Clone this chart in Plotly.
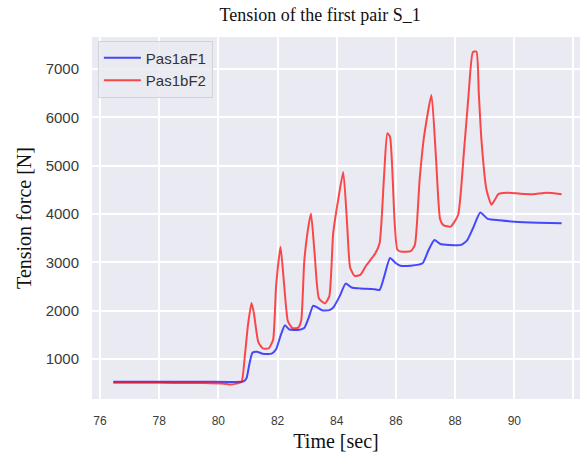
import plotly.graph_objects as go

# Pas1aF1 (blue)
t_a = [76.45, 77.5, 78.5, 79.5, 80.5, 80.85, 80.95, 81.05, 81.15, 81.3, 81.5, 81.8, 81.95,
       82.1, 82.25, 82.4, 82.7, 82.9, 83.05, 83.2, 83.3, 83.5, 83.75, 83.9, 84.1, 84.3,
       84.5, 84.8, 85.2, 85.45, 85.6, 85.8, 86.0, 86.15, 86.5, 86.9, 87.1, 87.3, 87.5,
       87.8, 88.2, 88.4, 88.6, 88.85, 89.1, 89.5, 90.0, 90.8, 91.6]
f_a = [530, 530, 530, 530, 525, 535, 600, 900, 1130, 1150, 1110, 1110, 1200,
       1480, 1700, 1610, 1600, 1640, 1850, 2100, 2080, 2010, 2010, 2080, 2300, 2560,
       2480, 2460, 2450, 2430, 2700, 3090, 2980, 2930, 2930, 2980, 3250, 3460, 3380,
       3360, 3360, 3450, 3700, 4030, 3900, 3870, 3840, 3820, 3810]

# Pas1bF2 (red)
t_b = [76.45, 77.5, 78.5, 79.5, 80.2, 80.4, 80.6, 80.78, 80.9, 81.0, 81.12, 81.2, 81.35,
       81.5, 81.7, 81.85, 81.95, 82.1, 82.2, 82.35, 82.5, 82.7, 82.8, 82.9, 83.02, 83.13,
       83.25, 83.4, 83.6, 83.75, 83.88, 84.05, 84.22, 84.35, 84.45, 84.6, 84.8, 85.0,
       85.3, 85.45, 85.6, 85.71, 85.8, 85.95, 86.05, 86.2, 86.5, 86.64, 86.8, 86.95,
       87.2, 87.35, 87.49, 87.6, 87.85, 88.1, 88.3, 88.45, 88.6, 88.72, 88.8, 88.89,
       89.06, 89.23, 89.35, 89.46, 89.74, 90.2, 90.64, 91.09, 91.6]
f_b = [510, 510, 505, 505, 490, 470, 490, 520, 1100, 1700, 2160, 1950, 1350,
       1220, 1220, 1400, 2500, 3320, 2700, 1780, 1640, 1650, 1800, 3000, 3650, 4010,
       3200, 2250, 2150, 2300, 3600, 4300, 4870, 3800, 2900, 2720, 2740, 2940,
       3180, 3400, 4800, 5670, 5600, 3900, 3260, 3220, 3230, 3360, 4700, 5600,
       6460, 5200, 3900, 3770, 3740, 3980, 5300, 6430, 7350, 7360, 6500, 5530,
       4500, 4190, 4300, 4410, 4440, 4420, 4410, 4440, 4410]

x_ticks = [76, 78, 80, 82, 84, 86, 88, 90, 92]
y_ticks = [1000, 2000, 3000, 4000, 5000, 6000, 7000]

fig = go.Figure()
fig.add_trace(go.Scatter(x=t_a, y=f_a, mode="lines", name="Pas1aF1",
                         line=dict(color="rgba(0,0,255,0.7)", width=2, shape="spline", smoothing=0.5)))
fig.add_trace(go.Scatter(x=t_b, y=f_b, mode="lines", name="Pas1bF2",
                         line=dict(color="rgba(255,0,0,0.7)", width=2, shape="spline", smoothing=0.5)))

serif = "Liberation Serif, Times New Roman, serif"
sans = "Liberation Sans, Arial, sans-serif"

fig.update_layout(
    width=580, height=465,
    margin=dict(l=92, r=0, t=37, b=66),
    paper_bgcolor="white",
    plot_bgcolor="#EAEAF2",
    title=dict(text="Tension of the first pair S_1", font=dict(family=serif, size=18, color="#111"),
               xref="container", x=0.552, xanchor="center", yref="container", y=0.968, yanchor="middle"),
    showlegend=True,
    legend=dict(x=0.012, y=0.99, xanchor="left", yanchor="top", itemwidth=37,
                bgcolor="rgba(234,234,242,0.85)", bordercolor="#d2d2da", borderwidth=1,
                font=dict(family=sans, size=15, color="#333")),
    xaxis=dict(range=[75.73, 92.22], tickvals=x_ticks, ticktext=[str(v) for v in x_ticks],
               showgrid=True, gridcolor="white", gridwidth=1.5, zeroline=False,
               showline=False, ticks="", ticklabelstandoff=13,
               tickfont=dict(family=sans, size=12, color="#3a3a3a"),
               title=dict(text="Time [sec]", font=dict(family=serif, size=20, color="#111"), standoff=6)),
    yaxis=dict(range=[172, 7662], tickvals=y_ticks, ticktext=[str(v) for v in y_ticks],
               showgrid=True, gridcolor="white", gridwidth=1.5, zeroline=False,
               showline=False, ticks="", ticklabelstandoff=12,
               tickfont=dict(family=sans, size=15, color="#3a3a3a"),
               title=dict(text="Tension force [N]", font=dict(family=serif, size=20, color="#111"), standoff=8)),
)

fig.write_html("out.html")
